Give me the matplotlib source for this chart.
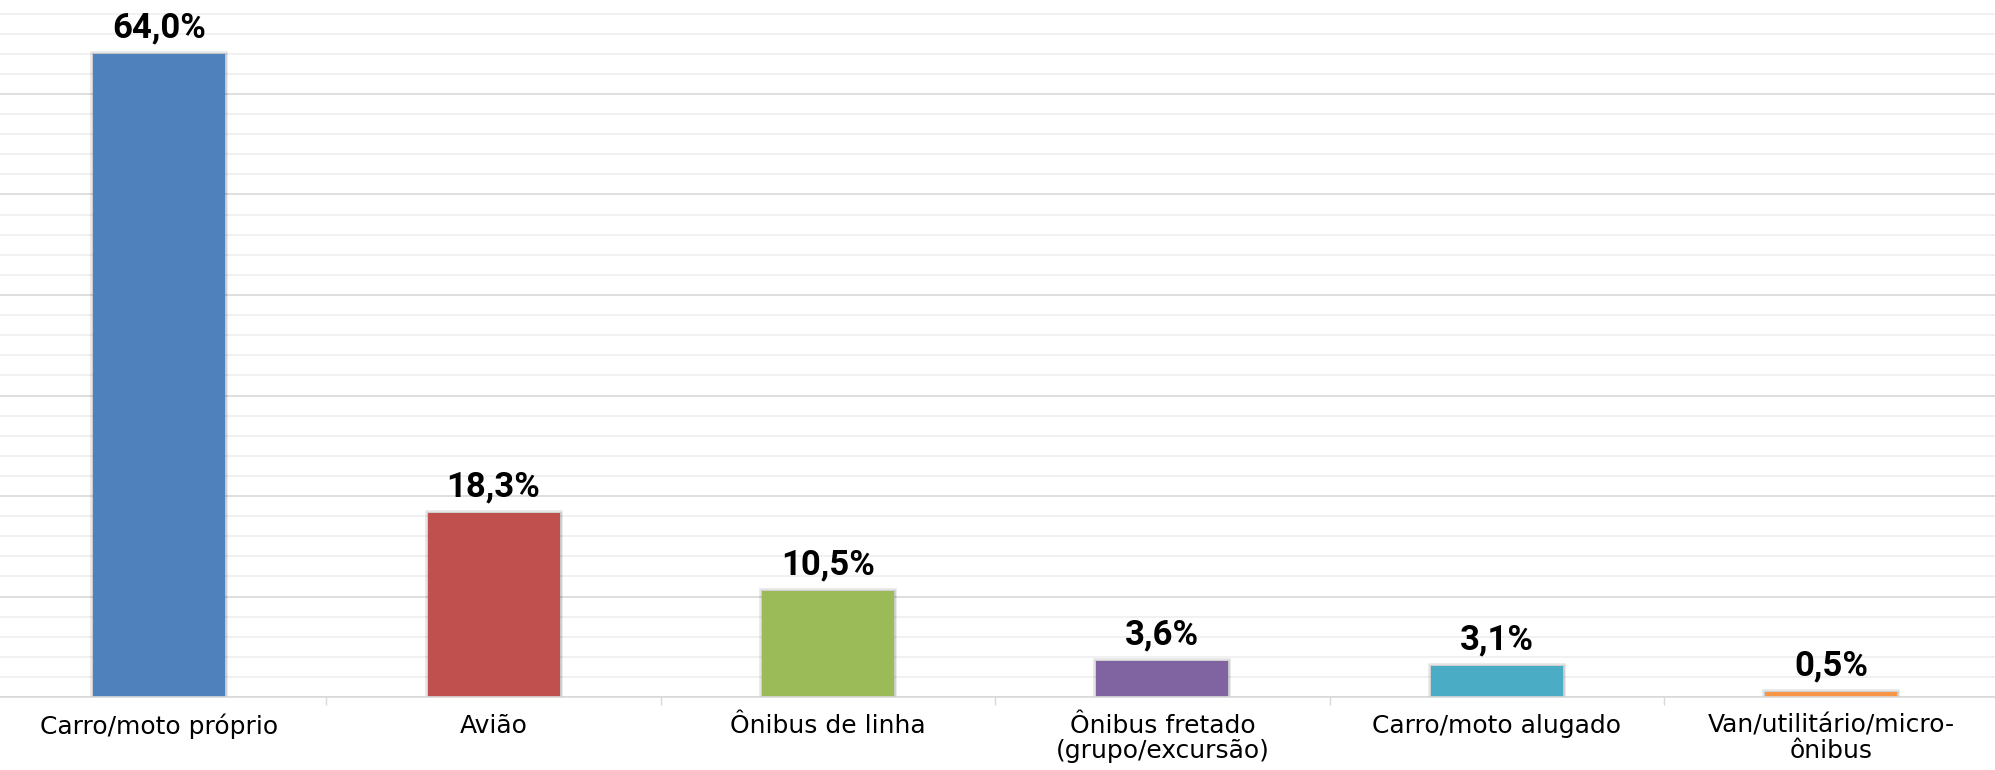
import matplotlib
matplotlib.use("Agg")
import matplotlib.pyplot as plt
import matplotlib.patheffects as pe
from matplotlib.ticker import MultipleLocator, FixedLocator

categories = ["Carro/moto próprio", "Avião", "Ônibus de linha",
              "Ônibus fretado\n(grupo/excursão)", "Carro/moto alugado",
              "Van/utilitário/micro-\nônibus"]
values = [64.0, 18.3, 10.5, 3.6, 3.1, 0.5]
value_labels = ["64,0%", "18,3%", "10,5%", "3,6%", "3,1%", "0,5%"]
colors = ["#4F81BD", "#C0504D", "#9BBB59", "#8064A2", "#4BACC6", "#F79646"]

W, H, DPI = 1995, 770, 100
fig = plt.figure(figsize=(W / DPI, H / DPI), dpi=DPI)
base_px = 697
ax = fig.add_axes([0, (H - base_px) / H, 1, base_px / H])

x = list(range(len(categories)))
bars = ax.bar(x, values, width=0.395, color=colors, zorder=3)
for b in bars:
    b.set_path_effects([pe.Stroke(linewidth=4, foreground="#000000", alpha=0.10),
                        pe.Stroke(linewidth=2, foreground="#000000", alpha=0.10),
                        pe.Normal()])

for xi, v, lab in zip(x, values, value_labels):
    ax.annotate(lab, (xi, v), xytext=(0, 7), textcoords="offset points",
                ha="center", va="bottom", fontsize=25, fontweight="bold",
                family="Roboto", color="#000000", zorder=4)

ax.set_xlim(-0.476, 5.49)
ax.set_ylim(0, base_px / 10.05)

ax.yaxis.set_major_locator(MultipleLocator(10))
ax.yaxis.set_minor_locator(MultipleLocator(2))
ax.grid(axis="y", which="major", color="#d9d9d9", linewidth=1.2, zorder=0)
ax.grid(axis="y", which="minor", color="#efefef", linewidth=1.2, zorder=0)
ax.tick_params(axis="y", which="both", left=False, labelleft=False)

ax.set_xticks(x)
ax.set_xticklabels(categories, fontsize=18, family="DejaVu Sans",
                   color="#000000", linespacing=1.08)
ax.tick_params(axis="x", which="major", length=0, pad=12)
ax.xaxis.set_minor_locator(FixedLocator([i + 0.5 for i in range(len(categories) - 1)]))
ax.tick_params(axis="x", which="minor", length=6, width=1, color="#d9d9d9")

for s in ["left", "right", "top"]:
    ax.spines[s].set_visible(False)
ax.spines["bottom"].set_color("#d9d9d9")
ax.spines["bottom"].set_linewidth(1.2)
ax.spines["bottom"].set_zorder(5)

fig.savefig("out.png", dpi=DPI)
